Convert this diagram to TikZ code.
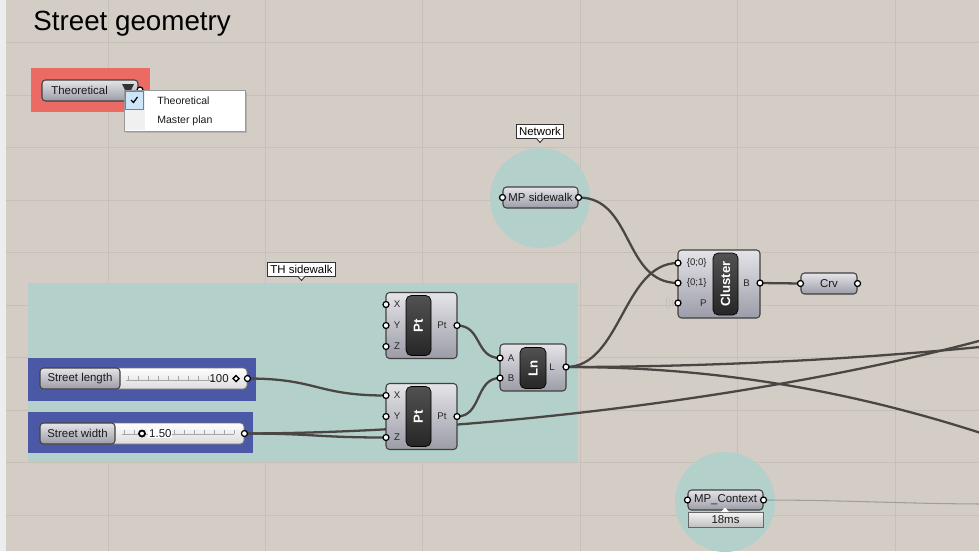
\documentclass[tikz,border=0pt]{standalone}
\usepackage{fontspec}
\usepackage{graphicx}
\setmainfont{Liberation Sans}
\usetikzlibrary{positioning,shadows}
\newlength\pxu
\setlength\pxu{0.02cm}
\definecolor{canvas}{HTML}{D4CDC5}
\definecolor{gridline}{HTML}{C7C0B8}
\definecolor{groupteal}{HTML}{B4D0CA}
\definecolor{groupred}{HTML}{EC6A64}
\definecolor{groupblue}{HTML}{4B58A6}
\definecolor{wirecol}{HTML}{4A4643}
\definecolor{comptop}{HTML}{E4E4E8}
\definecolor{compbot}{HTML}{9C9CA8}
\definecolor{menublue}{HTML}{CDE5F8}
\definecolor{menuedge}{HTML}{3D8EE0}
\pgfdeclarelayer{groups}
\pgfdeclarelayer{wires}
\pgfsetlayers{groups,wires,main}
\tikzset{
  comp/.style={draw=black!75,line width=.6pt,rounded corners=2pt,top color=comptop,bottom color=compbot,inner sep=0pt},
  capsule/.style={draw=black,line width=.4pt,rounded corners=3pt,top color=black!68,bottom color=black!85,inner sep=0pt,text=white,font=\bfseries\fontsize{7.5}{8}\selectfont},
  grip/.style={circle,draw=black,fill=white,line width=.7pt,minimum size=6\pxu,inner sep=0pt},
  wire/.style={draw=wirecol,line width=1.3pt},
  thinwire/.style={draw=black!38,line width=.6pt},
  plbl/.style={inner sep=0pt,text=black!85,font=\fontsize{5.5}{6}\selectfont},
  txt/.style={inner sep=0pt,text=black!90,font=\fontsize{6.5}{7}\selectfont},
  tag/.style={draw=black!80,fill=white,line width=.5pt,inner sep=1.6pt,font=\fontsize{6.5}{7}\selectfont},
  sliderbody/.style={draw=black!55,line width=.5pt,rounded corners=2pt,top color=white,bottom color=black!14,inner sep=0pt},
}
\begin{document}
\begin{tikzpicture}[x=0.02cm,y=-0.02cm]
\useasboundingbox (0,0) rectangle (979,551);

% canvas, grid and groups
\begin{pgfonlayer}{groups}
\fill[black!7] (0,0) rectangle (979,551);
\fill[canvas] (6,0) rectangle (979,551);
\foreach \gx in {108,265,422,580,737,895}
  \draw[gridline,line width=.5pt] (\gx,0) -- (\gx,551);
\foreach \gy in {42,95,147,200,252,305,357,410,462,515}
  \draw[gridline,line width=.5pt] (6,\gy) -- (979,\gy);
\fill[groupteal] (28,283) rectangle (578,462);
\fill[groupteal] (540,198) circle[radius=1cm];
\fill[groupteal] (725,502) circle[radius=1cm];
\fill[groupred] (31,68) rectangle (150,112);
\fill[groupblue] (28,358) rectangle (256,401);
\fill[groupblue] (28,412) rectangle (253,453);
\end{pgfonlayer}

\node[anchor=base west,inner sep=0pt,font=\fontsize{15.8}{17}\selectfont] (title) at (33,31) {Street geometry};

% value list
\node[comp,minimum width=96\pxu,minimum height=21\pxu] (vlist) at (90,90.5) {};
\node[txt,anchor=west] (vlist-txt) at (51,90.5) {Theoretical};
\fill[black!80] (122,84) -- (134,84) -- (130,92) -- (126,92) -- cycle;
\node[grip] (vlist-out) at (140,90) {};
\node[draw=black!40,fill=white,minimum width=121\pxu,minimum height=41\pxu,
  drop shadow={opacity=.35,shadow xshift=2\pxu,shadow yshift=-2\pxu}] (menu) at (184.5,110.5) {};
\fill[black!6] (125,91) rectangle (145,130);
\draw[menuedge,fill=menublue,line width=.5pt] (125.5,91.5) rectangle (143,109);
\draw[black,line width=.7pt] (131,100) -- (133.5,102.5) -- (137.5,97);
\node[txt,anchor=west,font=\fontsize{6}{7}\selectfont] (menu-opt1) at (157,100.5) {Theoretical};
\node[txt,anchor=west,font=\fontsize{6}{7}\selectfont] (menu-opt2) at (157,120.5) {Master plan};

% network
\node[tag] (nettag) at (540,131) {Network};
\draw[black!80,fill=white,line width=.5pt] ([xshift=-3.5\pxu]nettag.south) -- ([yshift=-4\pxu]nettag.south) -- ([xshift=3.5\pxu]nettag.south);
\node[comp,txt,minimum width=75\pxu,minimum height=21\pxu] (mpside) at (540.5,197.5) {MP sidewalk};
\node[grip] (mpside-in) at (mpside.west) {};
\node[grip] (mpside-out) at (mpside.east) {};

% TH sidewalk
\node[tag] (thtag) at (301.5,269) {TH sidewalk};
\draw[black!80,fill=white,line width=.5pt] ([xshift=-3.5\pxu]thtag.south) -- ([yshift=-4\pxu]thtag.south) -- ([xshift=3.5\pxu]thtag.south);

\foreach \nm/\cy in {pt1/325.5,pt2/416.5}{
  \node[comp,minimum width=71\pxu,minimum height=66\pxu] (\nm) at (421.5,\cy) {};
  \node[capsule,minimum width=25\pxu,minimum height=60\pxu] (\nm-cap) at (418.5,\cy) {\rotatebox{90}{Pt}};
  \foreach \inp/\dy in {X/-21,Y/0,Z/21}{
    \node[grip] (\nm-\inp) at (386,{\cy+(\dy)}) {};
    \node[plbl] (\nm-\inp lb) at (397,{\cy+(\dy)}) {\inp};
  }
  \node[grip] (\nm-out) at (457,\cy) {};
  \node[plbl] (\nm-outlb) at (442,\cy) {Pt};
}

\node[comp,minimum width=66\pxu,minimum height=47\pxu] (ln) at (533,367.5) {};
\node[capsule,minimum width=26\pxu,minimum height=41\pxu] (ln-cap) at (533,368) {\rotatebox{90}{Ln}};
\node[grip] (ln-A) at (500,358) {};
\node[plbl] (ln-Alb) at (511,358) {A};
\node[grip] (ln-B) at (500,378) {};
\node[plbl] (ln-Blb) at (511,378) {B};
\node[grip] (ln-L) at (566,367) {};
\node[plbl] (ln-Llb) at (552,367) {L};

% sliders
\node[sliderbody,minimum width=207\pxu,minimum height=21\pxu] (lenslider) at (143.5,378.5) {};
\node[comp,txt,minimum width=80\pxu,minimum height=21\pxu] (lenname) at (80,378.5) {Street length};
\draw[black!35,line width=.4pt] (126,380) -- (214,380);
\foreach \tx in {128,138,...,208}
  \draw[black!35,line width=.4pt] (\tx,376) -- (\tx,380);
\node[txt,anchor=east] (lenval) at (229,378.5) {100};
\draw[black,line width=.8pt,fill=white] (236,375.5) -- (239,378.5) -- (236,381.5) -- (233,378.5) -- cycle;
\node[grip] (lenout) at (lenslider.east) {};

\node[sliderbody,minimum width=204\pxu,minimum height=21\pxu] (widslider) at (142,433.5) {};
\node[comp,txt,minimum width=75\pxu,minimum height=21\pxu] (widname) at (77.5,433.5) {Street width};
\draw[black!35,line width=.4pt] (122,434) -- (234,434);
\foreach \tx in {124,134,...,234}
  \draw[black!35,line width=.4pt] (\tx,430) -- (\tx,434);
\draw[black,line width=1pt,fill=white] (142,433.5) circle[radius=3\pxu];
\node[txt,anchor=west,fill=white,inner sep=.5pt] (widval) at (148,433.5) {1.50};
\node[grip] (widout) at (widslider.east) {};

% cluster
\node[comp,minimum width=82\pxu,minimum height=68\pxu] (cl) at (719,284) {};
\node[capsule,minimum width=25\pxu,minimum height=62\pxu] (cl-cap) at (725.5,284) {\rotatebox{90}{Cluster}};
\node[grip] (cl-in0) at (678,263) {};
\node[plbl,anchor=east] (cl-in0lb) at (707,263) {\{0;0\}};
\node[grip] (cl-in1) at (678,283) {};
\node[plbl,anchor=east] (cl-in1lb) at (707,283) {\{0;1\}};
\node[grip] (cl-P) at (678,303) {};
\node[plbl,anchor=east] (cl-Plb) at (707,303) {P};
\foreach \r in {6,9,12}
  \draw[black!25,line width=.5pt] (cl-P.center) ++({-\r*0.866},{-\r*0.5}) arc[start angle=150,end angle=210,radius=\r\pxu];
\node[grip] (cl-out) at (760,283) {};
\node[plbl] (cl-outlb) at (746.5,283) {B};

\node[comp,txt,minimum width=56\pxu,minimum height=21\pxu] (crv) at (829,283.5) {Crv};
\node[grip] (crv-in) at (crv.west) {};
\node[grip] (crv-out) at (crv.east) {};

% context
\node[comp,txt,minimum width=75\pxu,minimum height=20\pxu] (mpctx) at (725.5,500) {MP\_Context};
\node[grip] (mpctx-in) at (mpctx.west) {};
\node[grip] (mpctx-out) at (mpctx.east) {};
\node[draw=black!60,top color=black!4,bottom color=black!25,line width=.5pt,minimum width=75\pxu,minimum height=15\pxu,txt] (timer) at (725.5,519.5) {18ms};
\fill[white] (721,512) -- (725,507.5) -- (729,512) -- cycle;

% wires
\coordinate (offA) at (990,346);
\coordinate (offB) at (990,338);
\coordinate (offC) at (990,436);
\coordinate (offD) at (990,504);
\begin{pgfonlayer}{wires}
\begin{scope}
\clip (6,0) rectangle (979,551);
\draw[wire] (lenout.center) .. controls +(70,0) and +(-70,0) .. (pt2-X.center);
\draw[wire] (widout.center) .. controls +(70,0) and +(-70,0) .. (pt2-Z.center);
\draw[wire] (widout.center) .. controls (500,433) and (800,390) .. (offB);
\draw[wire] (pt1-out.center) .. controls +(25,0) and +(-25,0) .. (ln-A.center);
\draw[wire] (pt2-out.center) .. controls +(25,0) and +(-25,0) .. (ln-B.center);
\draw[wire] (ln-L.center) .. controls +(55,0) and +(-55,0) .. (cl-in0.center);
\draw[wire] (ln-L.center) .. controls (700,367) and (850,360) .. (offA);
\draw[wire] (ln-L.center) .. controls (680,367) and (820,380) .. (offC);
\draw[wire] (mpside-out.center) .. controls +(55,0) and +(-55,0) .. (cl-in1.center);
\draw[wire] (cl-out.center) -- (crv-in.center);
\draw[thinwire] (mpctx-out.center) .. controls +(80,0) and +(-80,0) .. (offD);
\end{scope}
\end{pgfonlayer}
\end{tikzpicture}
\end{document}
